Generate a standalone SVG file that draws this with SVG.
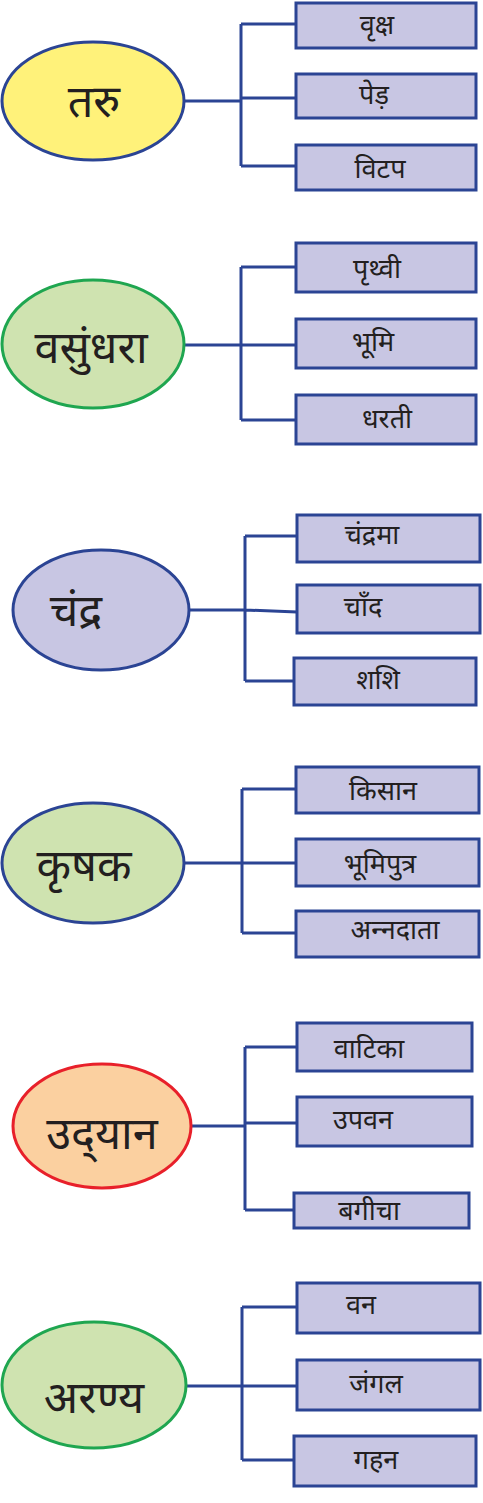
<svg xmlns="http://www.w3.org/2000/svg" width="483" height="1503" viewBox="0 0 483 1503">
<style>
.bg{fill:#ffffff}
.box{fill:#c8c6e3;stroke:#2b4494;stroke-width:3}
.ell{stroke-width:3}
.blue{stroke:#2b4494}
.green{stroke:#1fa650}
.red{stroke:#e8202a}
.conn{fill:none;stroke:#2b4494;stroke-width:3}
.t{font-family:"Noto Sans","Noto Sans CJK SC",sans-serif;fill:#231f20;text-anchor:middle}
.big{font-size:45px}
.sm{font-size:27px}
</style>
<rect class="bg" x="0" y="0" width="483" height="1503"/>
<g id="connectors">
<path class="conn" d="M183,101 H241 M241,24 V166 M241,24 H296 M241,98 H296 M241,166 H296"/>
<path class="conn" d="M184,345 H241 M241,267 V420 M241,267 H296 M241,345 H296 M241,420 H296"/>
<path class="conn" d="M189,610 H245 M245,536 V681 M245,536 H297 M245,610 L297,612 M245,681 H294"/>
<path class="conn" d="M184,863 H242 M242,789 V933 M242,789 H296 M242,863 H296 M242,933 H296"/>
<path class="conn" d="M191,1126 H245 M245,1047 V1210 M245,1047 H297 M245,1123 H297 M245,1210 H294"/>
<path class="conn" d="M186,1386 H242 M242,1307 V1460 M242,1307 H297 M242,1386 H297 M242,1460 H294"/>
</g>
<g id="node-taru">
<ellipse class="ell blue" cx="93" cy="101" rx="91" ry="59" fill="#fff27a"/>
<text class="t big" x="94" y="117">तरु</text>
</g>
<g id="node-vriksh"><rect class="box" x="296" y="3" width="180" height="45"/><text class="t sm" x="377" y="34">वृक्ष</text></g>
<g id="node-ped"><rect class="box" x="296" y="74" width="180" height="44"/><text class="t sm" x="374" y="104">पेड़</text></g>
<g id="node-vitap"><rect class="box" x="296" y="145" width="180" height="45"/><text class="t sm" x="380" y="178">विटप</text></g>

<g id="node-vasundhara">
<ellipse class="ell green" cx="93" cy="344" rx="91" ry="64" fill="#cfe3b0"/>
<text class="t big" x="91" y="363">वसुंधरा</text>
</g>
<g id="node-prithvi"><rect class="box" x="296" y="243" width="180" height="49"/><text class="t sm" x="377" y="278">पृथ्वी</text></g>
<g id="node-bhumi"><rect class="box" x="296" y="319" width="180" height="49"/><text class="t sm" x="373" y="351">भूमि</text></g>
<g id="node-dharti"><rect class="box" x="296" y="395" width="180" height="49"/><text class="t sm" x="387" y="428">धरती</text></g>

<g id="node-chandra">
<ellipse class="ell blue" cx="101" cy="610" rx="88" ry="60" fill="#c8c6e3"/>
<text class="t big" x="76" y="626">चंद्र</text>
</g>
<g id="node-chandrama"><rect class="box" x="297" y="515" width="183" height="47"/><text class="t sm" x="372" y="544">चंद्रमा</text></g>
<g id="node-chand"><rect class="box" x="297" y="585" width="183" height="48"/><text class="t sm" x="363" y="616">चाँद</text></g>
<g id="node-shashi"><rect class="box" x="294" y="658" width="182" height="47"/><text class="t sm" x="378" y="689">शशि</text></g>

<g id="node-krishak">
<ellipse class="ell blue" cx="93" cy="863" rx="91" ry="60" fill="#cfe3b0"/>
<text class="t big" x="84" y="881">कृषक</text>
</g>
<g id="node-kisan"><rect class="box" x="296" y="767" width="183" height="46"/><text class="t sm" x="383" y="800">किसान</text></g>
<g id="node-bhumiputra"><rect class="box" x="296" y="839" width="183" height="47"/><text class="t sm" x="380" y="873">भूमिपुत्र</text></g>
<g id="node-anndata"><rect class="box" x="296" y="911" width="183" height="46"/><text class="t sm" x="395" y="939">अन्‍नदाता</text></g>

<g id="node-udyan">
<ellipse class="ell red" cx="102" cy="1126" rx="89" ry="62" fill="#fbd0a0"/>
<text class="t big" x="102" y="1149">उद्‌यान</text>
</g>
<g id="node-vatika"><rect class="box" x="297" y="1023" width="175" height="48"/><text class="t sm" x="369" y="1058">वाटिका</text></g>
<g id="node-upvan"><rect class="box" x="297" y="1097" width="175" height="49"/><text class="t sm" x="363" y="1129">उपवन</text></g>
<g id="node-bagicha"><rect class="box" x="294" y="1193" width="175" height="35"/><text class="t sm" x="369" y="1220">बगीचा</text></g>

<g id="node-aranya">
<ellipse class="ell green" cx="94" cy="1385" rx="92" ry="63" fill="#cfe3b0"/>
<text class="t big" x="94" y="1413">अरण्य</text>
</g>
<g id="node-van"><rect class="box" x="297" y="1283" width="183" height="50"/><text class="t sm" x="361" y="1314">वन</text></g>
<g id="node-jangal"><rect class="box" x="297" y="1360" width="183" height="50"/><text class="t sm" x="376" y="1393">जंगल</text></g>
<g id="node-gahan"><rect class="box" x="294" y="1436" width="182" height="50"/><text class="t sm" x="376" y="1469">गहन</text></g>
</svg>
